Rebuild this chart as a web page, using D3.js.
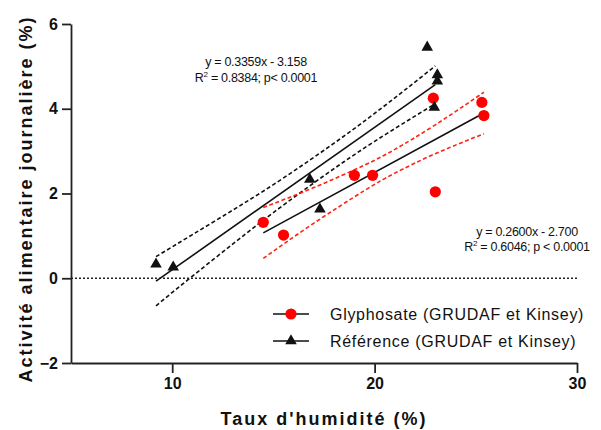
<!DOCTYPE html>
<html>
<head>
<meta charset="utf-8">
<script src="https://cdn.jsdelivr.net/npm/d3@7"></script>
<style>
  body { margin: 0; background: #fff; }
  text { font-family: "Liberation Sans", Arial, sans-serif; fill: #111; }
</style>
</head>
<body>
<svg></svg>
<script>
// Glyphosate points (red circles)
const glyX = [14.5, 15.5, 19.0, 19.9, 22.9, 23.0, 25.3, 25.4];
const glyY = [1.32, 1.02, 2.43, 2.43, 4.25, 2.04, 4.15, 3.84];
// Reference points (black triangles)
const refX = [9.2, 10.05, 16.8, 17.3, 22.6, 23.1, 23.1, 22.95];
const refY = [0.33, 0.26, 2.33, 1.63, 5.45, 4.8, 4.65, 4.03];

// fitted lines, end points
const refFitX = [9.2, 23.0];
const refFitY = [-0.07, 4.57];
const glyFitX = [14.5, 25.4];
const glyFitY = [1.07, 3.90];

// confidence bands
const refBandX = [9.2, 11, 13, 15, 17.5, 20, 23];
const refUpper = [0.51, 1.03, 1.61, 2.21, 3.02, 3.89, 5.01];
const refLower = [-0.65, 0.05, 0.81, 1.55, 2.42, 3.23, 4.12];
const glyBandX = [14.5, 17, 19.5, 21, 23, 25.4];
const glyUpper = [1.67, 2.14, 2.67, 3.04, 3.62, 4.39];
const glyLower = [0.47, 1.30, 2.07, 2.48, 2.94, 3.41];

const xTicks = [10, 20, 30];
const yTicks = [-2, 0, 2, 4, 6];
const seriesNames = ['Glyphosate (GRUDAF et Kinsey)', 'Référence (GRUDAF et Kinsey)'];
const refEq = ['y = 0.3359x - 3.158', '= 0.8384; p< 0.0001'];
const glyEq = ['y = 0.2600x - 2.700', '= 0.6046; p < 0.0001'];

const size = {w: 601, h: 430};
const svg = d3.select('svg').attr('width', size.w).attr('height', size.h);

const x = d3.scaleLinear().domain([5, 30]).range([71, 577]);
const y = d3.scaleLinear().domain([-2, 6]).range([363, 24]);

// axes
const yAxis = svg.append('g')
    .attr('transform', 'translate(71,0)')
    .call(d3.axisLeft(y).tickValues(yTicks).tickSize(9).tickSizeOuter(0).tickPadding(4).tickFormat(d3.format('d')));
const xAxis = svg.append('g')
    .attr('transform', 'translate(0,363)')
    .call(d3.axisBottom(x).tickValues(xTicks).tickSize(10).tickSizeOuter(0).tickPadding(5));
[xAxis, yAxis].forEach(a => {
    a.selectAll('path, line').attr('stroke', '#222').attr('stroke-width', 1.8);
    a.selectAll('text').attr('font-size', 16).attr('font-weight', 'bold')
        .attr('font-family', '"Liberation Sans", Arial, sans-serif').attr('fill', '#111');
});

// zero line
svg.append('line')
    .attr('x1', x(5)).attr('x2', x(30))
    .attr('y1', y(0)).attr('y2', y(0))
    .attr('stroke', '#222').attr('stroke-width', 1.4)
    .attr('stroke-dasharray', '2,2');

const line = d3.line().x(d => x(d[0])).y(d => y(d[1])).curve(d3.curveNatural);

function band (xs, ys, color) {
    svg.append('path')
        .attr('d', line(xs.map((v, i) => [v, ys[i]])))
        .attr('fill', 'none').attr('stroke', color)
        .attr('stroke-width', 1.6).attr('stroke-dasharray', '4,2.5');
}
band(refBandX, refUpper, '#111');
band(refBandX, refLower, '#111');
band(glyBandX, glyUpper, '#f21');
band(glyBandX, glyLower, '#f21');

function fit (xs, ys) {
    svg.append('path')
        .attr('d', d3.line().x(d => x(d[0])).y(d => y(d[1]))(xs.map((v, i) => [v, ys[i]])))
        .attr('fill', 'none').attr('stroke', '#111').attr('stroke-width', 1.6);
}
fit(refFitX, refFitY);
fit(glyFitX, glyFitY);

const tri = d3.symbol(d3.symbolTriangle, 58);

svg.append('g').selectAll('circle')
    .data(glyX.map((v, i) => [v, glyY[i]]))
    .enter().append('circle')
    .attr('cx', d => x(d[0])).attr('cy', d => y(d[1]))
    .attr('r', 5.6).attr('fill', '#f00');

svg.append('g').selectAll('path')
    .data(refX.map((v, i) => [v, refY[i]]))
    .enter().append('path')
    .attr('d', tri)
    .attr('transform', d => 'translate(' + x(d[0]) + ',' + y(d[1]) + ')')
    .attr('fill', '#111');

// equations
function equation (lines, cx, y1, y2) {
    const g = svg.append('g').attr('font-size', 12.5).attr('text-anchor', 'middle');
    g.append('text').attr('x', cx).attr('y', y1).attr('letter-spacing', -0.3).text(lines[0]);
    const t = g.append('text').attr('x', cx).attr('y', y2).attr('letter-spacing', -0.3);
    t.append('tspan').text('R');
    t.append('tspan').attr('font-size', 8).attr('dy', -5).text('2');
    t.append('tspan').attr('dy', 5).text(' ' + lines[1]);
}
equation(refEq, 256, 66, 82);
equation(glyEq, 527, 236, 251);

// legend
const legend = svg.append('g');
const rows = [314, 341];
rows.forEach((ry, i) => {
    legend.append('line').attr('x1', 273).attr('x2', 309).attr('y1', ry).attr('y2', ry)
        .attr('stroke', '#111').attr('stroke-width', 1.6);
    if (i === 0) {
        legend.append('circle').attr('cx', 291).attr('cy', ry).attr('r', 5.6).attr('fill', '#f00');
    } else {
        legend.append('path').attr('d', tri).attr('transform', 'translate(291,' + ry + ')').attr('fill', '#111');
    }
    legend.append('text').attr('x', 330).attr('y', ry + 6)
        .attr('font-size', 16).attr('letter-spacing', 0.7)
        .attr('fill', '#222').text(seriesNames[i]);
});

// axis titles
svg.append('text')
    .attr('x', 324).attr('y', 425)
    .attr('text-anchor', 'middle').attr('font-size', 18).attr('font-weight', 'bold')
    .attr('letter-spacing', 2).text("Taux d'humidité (%)");
svg.append('text')
    .attr('transform', 'translate(32,199) rotate(-90)')
    .attr('text-anchor', 'middle').attr('font-size', 18).attr('font-weight', 'bold')
    .attr('letter-spacing', 2).text('Activité alimentaire journalière (%)');
</script>
</body>
</html>
